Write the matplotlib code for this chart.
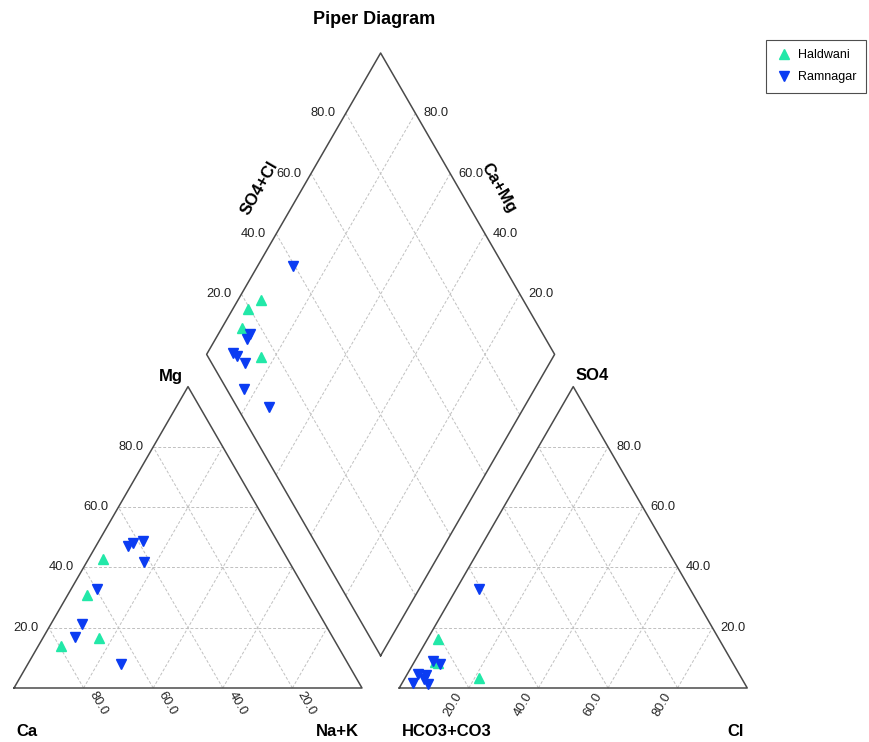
import numpy as np
import matplotlib
matplotlib.use("Agg")
import matplotlib.pyplot as plt
from matplotlib.lines import Line2D

plt.rcParams["font.family"] = ["Liberation Sans", "DejaVu Sans"]

# sample composition in meq %
groups = ["Haldwani", "Ramnagar"]
colors = ["#22e8a8", "#0b3cf2"]
markers = ["^", "v"]

haldwani_ca = [53.0, 63.4, 67.3, 79.4]
haldwani_mg = [42.7, 31.0, 16.7, 14.0]
haldwani_na = [4.3, 5.6, 16.0, 6.6]
haldwani_so4 = [16.4, 8.5, 8.2, 3.2]
haldwani_cl = [3.0, 6.0, 7.0, 21.4]
haldwani_hco3 = [80.6, 85.5, 84.8, 75.4]

ramnagar_ca = [41.8, 65.3, 41.8, 38.6, 43.7, 69.9, 59.7, 74.1]
ramnagar_mg = [48.2, 8.1, 41.7, 48.9, 47.2, 21.2, 32.9, 17.0]
ramnagar_na = [10.0, 26.6, 16.5, 12.5, 9.1, 8.9, 7.4, 8.9]
ramnagar_so4 = [32.9, 1.3, 1.7, 4.3, 8.0, 9.0, 4.7, 3.0]
ramnagar_cl = [6.5, 7.7, 3.2, 5.5, 7.7, 5.1, 3.1, 5.5]
ramnagar_hco3 = [60.6, 91.0, 95.1, 90.2, 84.3, 85.9, 92.2, 91.5]

tick_vals = [20, 40, 60, 80]

H = np.sqrt(3) / 2
GAP = 0.107
PX = 348.0  # pixels per unit side


def px(xp, yp):
    return (xp - 14) / PX, (688 - yp) / PX


def cation_xy(ca, mg, na):
    tot = np.asarray(ca) + np.asarray(mg) + np.asarray(na)
    mg = np.asarray(mg) / tot
    na = np.asarray(na) / tot
    return na + mg / 2, mg * H


def anion_xy(hco3, so4, cl):
    tot = np.asarray(hco3) + np.asarray(so4) + np.asarray(cl)
    so4 = np.asarray(so4) / tot
    cl = np.asarray(cl) / tot
    return 1 + GAP + cl + so4 / 2, so4 * H


BX, BY = 1 + GAP / 2, GAP * H  # diamond bottom vertex


def diamond_xy(camg, so4cl):
    camg = np.asarray(camg)
    so4cl = np.asarray(so4cl)
    return BX + 0.5 * (so4cl - camg), BY + H * (so4cl + camg)


def main():
    fig = plt.figure(figsize=(8.69, 7.42), dpi=100)
    ax = fig.add_axes([0, 0, 1, 1])
    ax.set_xlim(-14 / PX, (869 - 14) / PX)
    ax.set_ylim(-(742 - 688) / PX, 688 / PX)
    ax.axis("off")

    edge = dict(color="#4a4a4a", lw=1.1, zorder=3)
    grid = dict(color="#c0c0c0", lw=0.7, ls=(0, (3, 2)), zorder=1)
    tick_kw = dict(fontsize=9.3, color="#222222")
    lab_kw = dict(fontsize=12, fontweight="bold", color="black")

    # outlines
    ax.plot([0, 1, 0.5, 0], [0, 0, H, 0], **edge)
    x0 = 1 + GAP
    ax.plot([x0, x0 + 1, x0 + 0.5, x0], [0, 0, H, 0], **edge)
    dx, dy = diamond_xy([0, 1, 1, 0, 0], [0, 0, 1, 1, 0])
    ax.plot(dx, dy, **edge)

    # grids
    for v in tick_vals:
        t = v / 100
        for off in (0, x0):
            ax.plot([off + t / 2, off + 1 - t / 2], [t * H, t * H], **grid)
            ax.plot([off + t, off + t + (1 - t) / 2], [0, (1 - t) * H], **grid)
            ax.plot([off + t, off + t / 2], [0, t * H], **grid)
        gx, gy = diamond_xy([t, t], [0, 1])
        ax.plot(gx, gy, **grid)
        gx, gy = diamond_xy([0, 1], [t, t])
        ax.plot(gx, gy, **grid)

    # tick labels
    for v in tick_vals:
        t = v / 100
        lbl = f"{v:.1f}"
        # Mg on left edge of cation triangle
        ax.text(t / 2 - 10 / PX, t * H, lbl, ha="right", va="center", **tick_kw)
        # SO4 on right edge of anion triangle
        ax.text(x0 + 1 - t / 2 + 8 / PX, t * H, lbl, ha="left", va="center", **tick_kw)
        # Ca along cation base
        ax.text(1 - t + 8 / PX, -5 / PX, lbl, rotation=-60, rotation_mode="anchor",
                ha="left", va="center", **tick_kw)
        # Cl along anion base
        ax.text(x0 + t - 9 / PX, -6 / PX, lbl, rotation=60, rotation_mode="anchor",
                ha="right", va="center", **tick_kw)
        # SO4+Cl on upper-left side of diamond
        lx, ly = diamond_xy(1, t)
        ax.text(lx - 10 / PX, ly, lbl, ha="right", va="center", **tick_kw)
        # Ca+Mg on upper-right side of diamond
        rx, ry = diamond_xy(t, 1)
        ax.text(rx + 8 / PX, ry, lbl, ha="left", va="center", **tick_kw)

    # corner labels
    for txt, (xp, yp), rot in [
        ("Mg", (171, 376), 0), ("Ca", (27, 731), 0), ("Na+K", (337, 731), 0),
        ("SO4", (592, 376), 0), ("HCO3+CO3", (447, 731), 0), ("Cl", (736, 731), 0),
        ("SO4+Cl", (259, 188), 60), ("Ca+Mg", (499, 188), -60),
    ]:
        ax.text(*px(xp, yp), txt, ha="center", va="center", rotation=rot, **lab_kw)

    ax.text(*px(374, 19), "Piper Diagram", ha="center", va="center",
            fontsize=13, fontweight="bold")

    data = [
        (haldwani_ca, haldwani_mg, haldwani_na, haldwani_hco3, haldwani_so4, haldwani_cl),
        (ramnagar_ca, ramnagar_mg, ramnagar_na, ramnagar_hco3, ramnagar_so4, ramnagar_cl),
    ]
    handles = []
    for name, col, mk, (ca, mg, na, hco3, so4, cl) in zip(groups, colors, markers, data):
        st = dict(marker=mk, color=col, ms=7.5, ls="none", zorder=5)
        cx, cy = cation_xy(ca, mg, na)
        ax.plot(cx, cy, **st)
        axx, ayy = anion_xy(hco3, so4, cl)
        ax.plot(axx, ayy, **st)
        ca_, mg_, na_ = map(np.asarray, (ca, mg, na))
        hc_, so_, cl_ = map(np.asarray, (hco3, so4, cl))
        camg = (ca_ + mg_) / (ca_ + mg_ + na_)
        so4cl = (so_ + cl_) / (hc_ + so_ + cl_)
        mx, my = diamond_xy(camg, so4cl)
        ax.plot(mx, my, **st)
        handles.append(Line2D([], [], **st, label=name))

    leg = fig.legend(handles=handles, loc="upper right",
                     bbox_to_anchor=(866 / 869, 1 - 40 / 742), borderaxespad=0,
                     fontsize=9, frameon=True, fancybox=False,
                     borderpad=0.75, handletextpad=0.5, handlelength=1.3,
                     labelspacing=0.8, markerscale=1.05)
    leg.get_frame().set_edgecolor("#222222")
    leg.get_frame().set_linewidth(0.8)

    fig.savefig("out.png", dpi=100)


if __name__ == "__main__":
    main()
